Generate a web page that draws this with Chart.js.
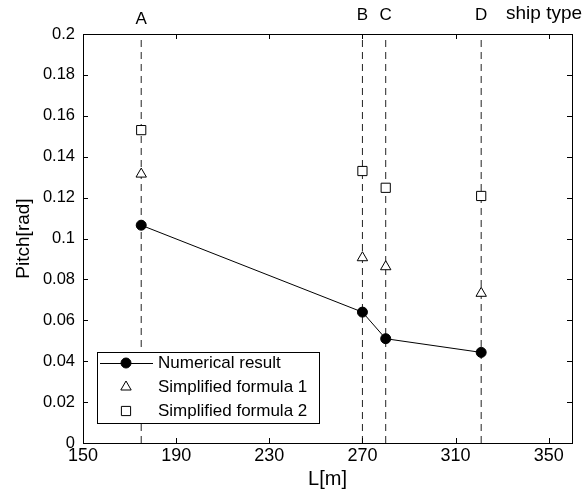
<!DOCTYPE html>
<html>
<head>
<meta charset="utf-8">
<script src="https://cdn.jsdelivr.net/npm/chart.js@4/dist/chart.umd.min.js"></script>
<style>
  html, body { margin: 0; padding: 0; background: #fff; }
  #wrap { width: 587px; height: 498px; }
</style>
</head>
<body>
<div id="wrap"><canvas id="pitchChart" width="587" height="498"></canvas></div>
<script>
// ship types and their lengths L[m]
const shipTypes = ['A', 'B', 'C', 'D'];
const shipLength = [175, 270, 280, 321];

// pitch [rad] per ship
const numerical = [0.1065, 0.064, 0.051, 0.0443];
const formula1 = [0.1315, 0.0906, 0.0862, 0.0732];
const formula2 = [0.153, 0.133, 0.1248, 0.1208];

// axis ticks
const xTicks = [150, 190, 230, 270, 310, 350];
const yTicks = [0, 0.02, 0.04, 0.06, 0.08, 0.1, 0.12, 0.14, 0.16, 0.18, 0.2];

const FONT = "'Liberation Sans', Arial, sans-serif";

function toPoints(ys) {
  return shipLength.map((x, i) => ({ x: x, y: ys[i] }));
}

// dashed guide line for each ship type
const guideSets = shipLength.map(x => ({
  label: 'guide',
  data: [{ x: x, y: 0 }, { x: x, y: 0.2 }],
  showLine: true,
  borderColor: '#222',
  borderWidth: 1,
  borderDash: [7, 5],
  pointRadius: 0,
  order: 10
}));

// frame, inward ticks, top labels and legend
const decorPlugin = {
  id: 'decor',
  afterDatasetsDraw(chart) {
    const ctx = chart.ctx;
    const a = chart.chartArea;
    const xs = chart.scales.x, ys = chart.scales.y;
    ctx.save();
    ctx.strokeStyle = '#000';
    ctx.lineWidth = 1;
    ctx.beginPath();
    xTicks.forEach(v => {
      const px = Math.round(xs.getPixelForValue(v)) + 0.5;
      ctx.moveTo(px, a.bottom); ctx.lineTo(px, a.bottom - 5);
      ctx.moveTo(px, a.top); ctx.lineTo(px, a.top + 5);
    });
    yTicks.forEach(v => {
      const py = Math.round(ys.getPixelForValue(v)) + 0.5;
      ctx.moveTo(a.left, py); ctx.lineTo(a.left + 5, py);
      ctx.moveTo(a.right, py); ctx.lineTo(a.right - 5, py);
    });
    ctx.stroke();
    ctx.strokeRect(Math.round(a.left) + 0.5, Math.round(a.top) + 0.5,
      Math.round(a.right - a.left), Math.round(a.bottom - a.top));

    // ship type labels above the plot
    ctx.fillStyle = '#000';
    ctx.font = '17px ' + FONT;
    ctx.textAlign = 'center';
    ctx.textBaseline = 'middle';
    shipTypes.forEach((t, i) => {
      const px = xs.getPixelForValue(shipLength[i]);
      ctx.fillText(t, px, i === 0 ? 19 : 15);
    });
    ctx.textAlign = 'left';
    ctx.font = '19px ' + FONT;
    ctx.fillText('ship type', 506, 14);

    // legend box
    const lx = 97, ly = 352, lw = 222, lh = 71;
    ctx.fillStyle = '#fff';
    ctx.fillRect(lx, ly, lw, lh);
    ctx.strokeRect(lx + 0.5, ly + 0.5, lw, lh);
    const entries = chart.data.datasets.filter(d => d.label !== 'guide');
    entries.forEach((d, i) => {
      const cy = ly + 11 + i * 24;
      const mx = lx + 29;
      if (d.showLine) {
        ctx.beginPath();
        ctx.moveTo(lx + 3, cy + 0.5);
        ctx.lineTo(lx + 56, cy + 0.5);
        ctx.strokeStyle = '#000';
        ctx.stroke();
      }
      ctx.fillStyle = d.pointBackgroundColor;
      ctx.strokeStyle = '#000';
      ctx.lineWidth = 1;
      Chart.helpers.drawPoint(ctx, {
        pointStyle: d.pointStyle,
        radius: d.pointRadius,
        rotation: 0,
        borderWidth: 1
      }, mx, cy);
      ctx.fillStyle = '#000';
      ctx.font = '17px ' + FONT;
      ctx.textBaseline = 'middle';
      ctx.fillText(d.label, lx + 61, cy);
    });
    ctx.restore();
  }
};

new Chart(document.getElementById('pitchChart'), {
  type: 'scatter',
  data: {
    datasets: [
      {
        label: 'Numerical result',
        data: toPoints(numerical),
        showLine: true,
        borderColor: '#000',
        borderWidth: 1,
        pointStyle: 'circle',
        pointRadius: 5,
        pointBackgroundColor: '#000',
        pointBorderColor: '#000',
        order: 0
      },
      {
        label: 'Simplified formula 1',
        data: toPoints(formula1),
        showLine: false,
        pointStyle: 'triangle',
        pointRadius: 6,
        pointBackgroundColor: '#fff',
        pointBorderColor: '#000',
        pointBorderWidth: 1,
        order: 0
      },
      {
        label: 'Simplified formula 2',
        data: toPoints(formula2),
        showLine: false,
        pointStyle: 'rect',
        pointRadius: 6.5,
        pointBackgroundColor: '#fff',
        pointBorderColor: '#000',
        pointBorderWidth: 1,
        order: 0
      }
    ].concat(guideSets)
  },
  options: {
    responsive: false,
    animation: false,
    layout: { padding: { top: 34, right: 15, left: 0, bottom: 0 } },
    plugins: {
      legend: { display: false },
      tooltip: { enabled: false }
    },
    scales: {
      x: {
        type: 'linear',
        min: 150,
        max: 360,
        afterBuildTicks: s => { s.ticks = xTicks.map(v => ({ value: v })); },
        afterFit: s => { s.height = 55; },
        grid: { display: false, drawTicks: false },
        border: { display: false },
        ticks: { color: '#000', padding: 2, font: { family: FONT, size: 18 } },
        title: { display: true, text: 'L[m]', color: '#000', font: { family: FONT, size: 20 }, padding: { top: 0, bottom: 7 } }
      },
      y: {
        type: 'linear',
        min: 0,
        max: 0.2,
        afterBuildTicks: s => { s.ticks = yTicks.map(v => ({ value: v })); },
        afterFit: s => { s.width = 83; },
        grid: { display: false, drawTicks: false },
        border: { display: false },
        ticks: {
          color: '#000', padding: 8, font: { family: FONT, size: 16.5 },
          callback: v => String(Number(v.toFixed(2)))
        },
        title: { display: true, text: 'Pitch[rad]', color: '#000', font: { family: FONT, size: 19 }, padding: { top: 12, bottom: 0 } }
      }
    }
  },
  plugins: [decorPlugin]
});
</script>
</body>
</html>
